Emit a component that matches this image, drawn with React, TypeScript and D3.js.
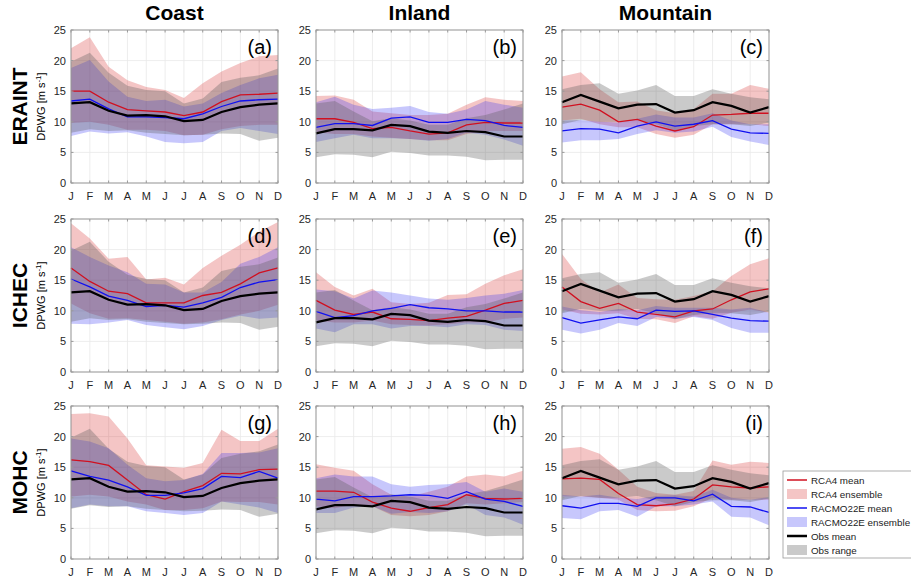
import React from 'react';
import * as d3 from 'd3';

// month ticks and panel names
const months = ['J', 'F', 'M', 'A', 'M', 'J', 'J', 'A', 'S', 'O', 'N', 'D'];
const regions = ['Coast', 'Inland', 'Mountain'];
const drivers = ['ERAINT', 'ICHEC', 'MOHC'];
const panelTags = [['(a)', '(b)', '(c)'], ['(d)', '(e)', '(f)'], ['(g)', '(h)', '(i)']];
const yTicks = [0, 5, 10, 15, 20, 25];

// observations (same in every row), per region: coast, inland, mountain
const obsMean = [
    [13.0, 13.2, 11.8, 11.0, 11.1, 10.9, 10.1, 10.3, 11.6, 12.4, 12.8, 13.0],
    [8.1, 8.8, 8.8, 8.6, 9.5, 9.3, 8.4, 8.2, 8.5, 8.3, 7.6, 7.6],
    [13.2, 14.4, 13.3, 12.2, 12.8, 12.9, 11.5, 11.9, 13.2, 12.6, 11.5, 12.4],
];
const obsLo = [
    [8.2, 8.8, 8.5, 8.6, 8.2, 8.0, 7.8, 7.9, 8.1, 8.0, 6.9, 7.4],
    [4.2, 4.7, 4.6, 4.2, 5.1, 4.9, 4.5, 4.5, 4.3, 3.7, 3.8, 3.8],
    [9.6, 10.3, 10.0, 10.0, 10.3, 9.6, 8.6, 9.3, 9.6, 9.6, 9.3, 9.9],
];
const obsHi = [
    [19.8, 21.3, 18.0, 15.9, 15.2, 15.0, 13.0, 13.8, 16.5, 17.2, 17.6, 18.7],
    [13.0, 13.4, 11.7, 10.1, 10.6, 10.2, 9.5, 9.5, 10.6, 11.1, 12.0, 13.0],
    [15.3, 16.0, 16.3, 14.6, 15.1, 16.0, 14.2, 14.2, 15.3, 14.6, 14.0, 13.7],
];

// RCA4 mean and ensemble, per driver then region
const rcaMeanERAINT = [
    [15.0, 15.0, 13.2, 12.0, 11.8, 11.6, 11.0, 11.6, 13.3, 14.4, 14.5, 14.7],
    [10.5, 10.5, 9.9, 8.9, 9.1, 8.5, 8.0, 8.2, 9.5, 9.9, 9.8, 9.8],
    [12.4, 12.9, 11.9, 10.0, 10.4, 9.3, 8.5, 9.2, 11.1, 11.2, 11.4, 11.4],
];
const rcaLoERAINT = [
    [9.8, 10.0, 9.5, 8.7, 8.7, 8.5, 7.8, 7.9, 8.8, 9.3, 9.5, 9.5],
    [8.3, 8.0, 8.0, 7.6, 7.4, 7.2, 7.0, 7.0, 8.0, 8.5, 8.5, 8.5],
    [10.2, 10.5, 9.6, 9.1, 9.1, 8.0, 7.4, 7.9, 9.6, 9.6, 9.6, 9.3],
];
const rcaHiERAINT = [
    [22.0, 23.8, 19.0, 16.8, 15.7, 15.2, 13.9, 16.3, 18.2, 19.6, 20.7, 20.9],
    [14.2, 14.3, 13.6, 11.7, 11.4, 11.1, 11.1, 11.3, 12.8, 14.0, 13.6, 13.4],
    [17.4, 18.1, 15.3, 13.2, 13.3, 11.9, 11.4, 12.1, 14.6, 14.6, 16.0, 15.4],
];
const rcaMeanICHEC = [
    [17.0, 14.8, 13.2, 12.8, 11.3, 11.3, 11.3, 12.5, 13.0, 14.4, 16.2, 17.0],
    [11.7, 10.1, 9.4, 9.8, 8.7, 8.6, 8.4, 8.8, 9.1, 10.1, 11.2, 11.7],
    [13.9, 11.5, 10.4, 11.2, 9.8, 9.4, 9.0, 10.0, 10.3, 11.8, 13.1, 13.6],
];
const rcaLoICHEC = [
    [11.2, 9.6, 8.7, 8.8, 8.5, 8.2, 7.9, 8.1, 8.6, 9.4, 10.0, 11.0],
    [8.4, 8.1, 8.1, 8.4, 7.8, 7.7, 7.6, 7.8, 8.1, 8.1, 8.7, 8.9],
    [10.2, 9.5, 9.4, 9.6, 8.7, 8.6, 8.0, 9.1, 8.7, 9.7, 10.2, 9.7],
];
const rcaHiICHEC = [
    [24.3, 21.8, 18.5, 18.8, 15.1, 15.4, 14.3, 17.0, 19.0, 20.8, 22.9, 24.5],
    [16.3, 13.9, 12.5, 13.6, 11.4, 11.1, 11.3, 12.6, 12.7, 14.4, 15.8, 16.8],
    [19.3, 15.2, 13.0, 14.3, 12.1, 11.9, 11.8, 12.4, 13.2, 15.7, 17.6, 18.6],
];
const rcaMeanMOHC = [
    [16.2, 15.9, 15.3, 12.9, 10.5, 9.8, 11.0, 12.0, 14.0, 13.9, 14.6, 14.7],
    [11.1, 11.1, 10.9, 9.3, 8.3, 7.8, 8.4, 8.9, 10.5, 9.9, 9.8, 9.9],
    [13.1, 13.2, 13.0, 10.7, 8.9, 8.7, 9.0, 9.8, 12.1, 11.8, 11.6, 11.8],
];
const rcaLoMOHC = [
    [10.2, 10.5, 10.2, 9.4, 8.9, 8.0, 8.0, 8.3, 9.4, 9.3, 9.3, 8.9],
    [8.6, 8.3, 8.9, 8.6, 7.2, 7.0, 7.2, 7.8, 9.1, 8.9, 9.1, 9.3],
    [10.2, 10.2, 10.0, 9.7, 8.0, 7.8, 7.9, 8.6, 10.0, 9.7, 9.7, 9.7],
];
const rcaHiMOHC = [
    [23.7, 23.8, 23.3, 19.7, 15.3, 15.1, 14.9, 15.7, 21.1, 19.3, 19.3, 21.3],
    [15.5, 14.9, 14.4, 12.2, 10.5, 10.2, 11.0, 11.8, 13.5, 13.8, 13.5, 14.4],
    [18.0, 18.3, 17.2, 14.6, 11.8, 10.8, 10.5, 11.1, 16.1, 15.4, 15.9, 15.7],
];

// RACMO22E mean and ensemble, per driver then region
const racMeanERAINT = [
    [13.4, 13.7, 12.1, 10.8, 10.8, 10.7, 10.5, 11.3, 12.5, 13.4, 13.6, 13.7],
    [9.1, 9.7, 9.7, 9.4, 10.6, 10.8, 9.9, 9.9, 10.4, 10.2, 9.4, 9.1],
    [8.5, 8.9, 8.8, 8.2, 9.3, 10.0, 9.3, 9.6, 10.2, 8.8, 8.2, 8.1],
];
const racLoERAINT = [
    [7.7, 8.4, 8.1, 8.3, 7.6, 6.7, 6.5, 6.7, 8.5, 9.0, 8.5, 8.0],
    [6.7, 7.3, 7.9, 7.3, 7.3, 7.2, 6.9, 7.2, 8.2, 7.9, 7.1, 6.1],
    [6.6, 7.0, 7.0, 7.2, 8.0, 8.6, 8.2, 8.4, 9.2, 7.5, 6.8, 6.2],
];
const racHiERAINT = [
    [18.8, 20.1, 16.6, 14.1, 13.4, 13.6, 12.5, 13.0, 14.7, 16.0, 17.1, 17.7],
    [13.2, 14.1, 12.8, 12.1, 12.3, 12.6, 11.6, 11.3, 12.0, 13.4, 12.8, 12.3],
    [10.2, 10.3, 10.0, 9.9, 10.5, 11.2, 10.7, 10.7, 11.4, 10.2, 9.6, 9.6],
];
const racMeanICHEC = [
    [15.2, 13.9, 12.4, 11.7, 10.7, 10.9, 10.6, 11.3, 12.2, 13.8, 14.7, 15.1],
    [9.9, 8.9, 9.2, 10.0, 10.4, 11.0, 10.5, 10.3, 10.0, 10.0, 9.8, 9.8],
    [8.9, 8.0, 8.5, 9.0, 8.7, 10.1, 9.9, 10.0, 9.4, 8.8, 8.4, 8.3],
];
const racLoICHEC = [
    [7.9, 7.8, 8.1, 8.5, 7.7, 7.3, 7.0, 7.5, 8.5, 9.2, 8.7, 8.9],
    [7.1, 6.5, 7.8, 7.8, 7.1, 7.5, 7.5, 7.3, 7.8, 7.7, 6.9, 6.7],
    [6.9, 6.3, 6.9, 8.0, 7.5, 9.0, 8.7, 9.0, 8.5, 7.2, 6.4, 6.4],
];
const racHiICHEC = [
    [20.4, 18.8, 17.4, 16.3, 14.4, 14.3, 13.0, 13.0, 14.7, 17.7, 18.8, 20.4],
    [13.5, 13.2, 12.0, 13.3, 13.0, 12.5, 12.0, 11.8, 12.1, 12.5, 12.8, 13.4],
    [10.7, 10.1, 9.8, 10.3, 10.1, 10.8, 10.5, 10.5, 10.5, 10.2, 10.5, 9.7],
];
const racMeanMOHC = [
    [14.4, 13.5, 12.9, 11.8, 10.4, 10.4, 10.8, 11.5, 13.5, 13.3, 14.3, 13.2],
    [9.8, 9.5, 10.2, 10.2, 10.3, 10.5, 10.4, 9.9, 11.0, 9.8, 9.4, 8.6],
    [8.7, 8.3, 9.1, 9.1, 8.6, 10.0, 10.0, 9.5, 10.6, 8.6, 8.5, 7.6],
];
const racLoMOHC = [
    [8.3, 8.9, 8.6, 8.6, 7.8, 7.5, 7.2, 7.5, 9.4, 8.9, 8.4, 7.5],
    [7.5, 7.5, 8.4, 8.6, 7.4, 7.7, 7.5, 7.8, 8.9, 7.2, 6.8, 5.6],
    [6.7, 6.5, 7.8, 8.0, 6.9, 8.6, 8.6, 8.9, 9.4, 6.9, 6.8, 5.5],
];
const racHiMOHC = [
    [19.7, 19.2, 18.1, 15.4, 13.2, 12.7, 12.9, 13.9, 17.3, 17.3, 17.4, 18.1],
    [13.2, 13.8, 13.5, 13.5, 12.2, 11.8, 12.1, 12.2, 12.6, 11.0, 11.5, 11.0],
    [10.5, 10.2, 10.5, 10.0, 9.8, 10.3, 10.4, 10.2, 11.3, 10.0, 9.7, 10.1],
];

const rcaMean = [rcaMeanERAINT, rcaMeanICHEC, rcaMeanMOHC];
const rcaLo = [rcaLoERAINT, rcaLoICHEC, rcaLoMOHC];
const rcaHi = [rcaHiERAINT, rcaHiICHEC, rcaHiMOHC];
const racMean = [racMeanERAINT, racMeanICHEC, racMeanMOHC];
const racLo = [racLoERAINT, racLoICHEC, racLoMOHC];
const racHi = [racHiERAINT, racHiICHEC, racHiMOHC];

const W = 911;
const H = 580;
const colX = [71, 316, 562];
const rowY = [30, 219, 406];
const pw = 207;
const ph = 153;
const font = '"Liberation Sans", Arial, Helvetica, sans-serif';

const RED = '#d01020';
const BLUE = '#1010f0';
const redFill = 'rgba(215, 40, 40, 0.27)';
const blueFill = 'rgba(40, 40, 245, 0.26)';
const grayFill = 'rgba(90, 90, 90, 0.32)';
const axisCol = '#9a9a9a';

const Panel = ({ r, c }: { r: number; c: number }) => {
    const x = d3.scalePoint<number>().domain(d3.range(12)).range([0, pw]);
    const y = d3.scaleLinear().domain([0, 25]).range([ph, 0]);

    const band = (lo: number[], hi: number[]) =>
        d3.area<number>()
            .x((d, i) => x(i) as number)
            .y0((d, i) => y(lo[i]))
            .y1((d, i) => y(hi[i]))(lo) || '';
    const line = (v: number[]) =>
        d3.line<number>()
            .x((d, i) => x(i) as number)
            .y(d => y(d))(v) || '';

    return (
        <g transform={`translate(${colX[c]},${rowY[r]})`}>
            <rect x={0} y={0} width={pw} height={ph} fill="white" />
            {/* grid */}
            {d3.range(12).map(i => (
                <line key={'gx' + i} x1={x(i)} x2={x(i)} y1={0} y2={ph} stroke="#e8e8e8" strokeWidth={0.8} />
            ))}
            {yTicks.map(t => (
                <line key={'gy' + t} x1={0} x2={pw} y1={y(t)} y2={y(t)} stroke="#e8e8e8" strokeWidth={0.8} />
            ))}
            {/* bands */}
            <path d={band(rcaLo[r][c], rcaHi[r][c])} fill={redFill} />
            <path d={band(racLo[r][c], racHi[r][c])} fill={blueFill} />
            <path d={band(obsLo[c], obsHi[c])} fill={grayFill} />
            {/* means */}
            <path d={line(rcaMean[r][c])} fill="none" stroke={RED} strokeWidth={1.3} />
            <path d={line(racMean[r][c])} fill="none" stroke={BLUE} strokeWidth={1.3} />
            <path d={line(obsMean[c])} fill="none" stroke="black" strokeWidth={2.2} />
            {/* box and ticks */}
            <rect x={0} y={0} width={pw} height={ph} fill="none" stroke={axisCol} strokeWidth={1} />
            {d3.range(12).map(i => (
                <g key={'tx' + i}>
                    <line x1={x(i)} x2={x(i)} y1={ph} y2={ph - 2.5} stroke={axisCol} />
                    <line x1={x(i)} x2={x(i)} y1={0} y2={2.5} stroke={axisCol} />
                    <text x={x(i)} y={ph + 17} textAnchor="middle" fontSize={11} fill="#262626">{months[i]}</text>
                </g>
            ))}
            {yTicks.map(t => (
                <g key={'ty' + t}>
                    <line x1={0} x2={2.5} y1={y(t)} y2={y(t)} stroke={axisCol} />
                    <line x1={pw} x2={pw - 2.5} y1={y(t)} y2={y(t)} stroke={axisCol} />
                    <text x={-5} y={y(t) + 4} textAnchor="end" fontSize={11} fill="#262626">{t}</text>
                </g>
            ))}
            <text x={pw - 6} y={24} textAnchor="end" fontSize={20} fill="black">{panelTags[r][c]}</text>
        </g>
    );
};

const legendItems = [
    { label: 'RCA4 mean', kind: 'line', color: RED, w: 1.5 },
    { label: 'RCA4 ensemble', kind: 'patch', color: redFill, w: 0 },
    { label: 'RACMO22E mean', kind: 'line', color: BLUE, w: 1.5 },
    { label: 'RACMO22E ensemble', kind: 'patch', color: blueFill, w: 0 },
    { label: 'Obs mean', kind: 'line', color: 'black', w: 2.5 },
    { label: 'Obs range', kind: 'patch', color: grayFill, w: 0 },
];

const App = () => {
    return (
        <svg width={W} height={H} style={{ display: 'block', position: 'absolute', left: 0, top: 0 }} fontFamily={font}>
            <rect width={W} height={H} fill="white" />
            {regions.map((name, c) => (
                <text key={name} x={colX[c] + pw / 2} y={20} textAnchor="middle" fontSize={21} fontWeight="bold">{name}</text>
            ))}
            {drivers.map((name, r) => (
                <g key={name}>
                    <text transform={`translate(27,${rowY[r] + ph / 2}) rotate(-90)`} textAnchor="middle" fontSize={21} fontWeight="bold">{name}</text>
                    <text transform={`translate(45,${rowY[r] + ph / 2}) rotate(-90)`} textAnchor="middle" fontSize={11}>
                        DPWG [m s<tspan dy={-4} fontSize={8}>-1</tspan><tspan dy={4}>]</tspan>
                    </text>
                </g>
            ))}
            {d3.range(3).map(r => d3.range(3).map(c => <Panel key={`${r}-${c}`} r={r} c={c} />))}
            <g transform="translate(783,471)">
                <rect x={0} y={0} width={140} height={87} fill="white" stroke="#999" strokeWidth={0.8} />
                {legendItems.map((it, i) => (
                    <g key={it.label} transform={`translate(0,${9 + i * 14})`}>
                        {it.kind === 'line'
                            ? <line x1={4} x2={24} y1={0} y2={0} stroke={it.color} strokeWidth={it.w} />
                            : <rect x={4} y={-5} width={20} height={10} fill={it.color} />}
                        <text x={28} y={3.5} fontSize={9.8} fill="#222">{it.label}</text>
                    </g>
                ))}
            </g>
        </svg>
    );
};

export default App;
